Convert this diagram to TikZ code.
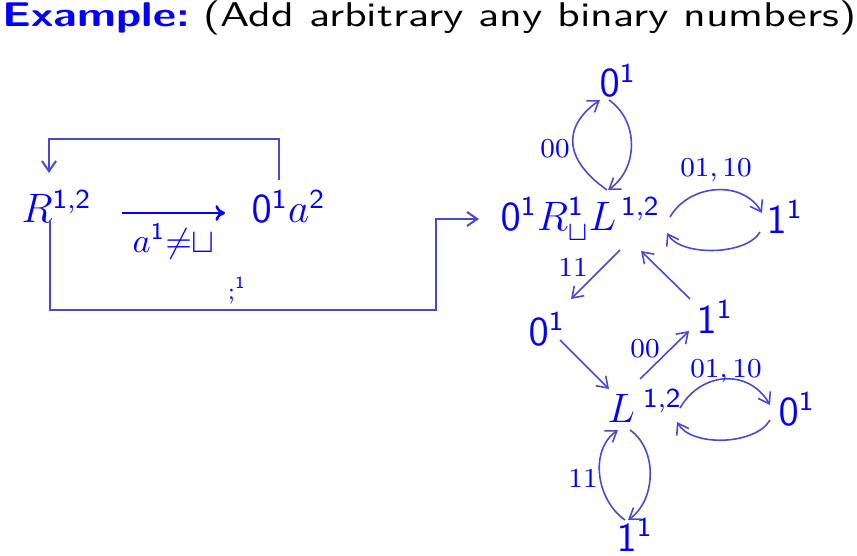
\documentclass[tikz,border=0pt]{standalone}
\usetikzlibrary{arrows.meta,calc}
\definecolor{ln}{RGB}{72,72,208}
\begin{document}
\begin{tikzpicture}[x=0.2917pt,y=0.2917pt,
  st/.style={inner sep=0pt, text=blue, anchor=base west, font=\fontsize{12}{14}\selectfont},
  lbl/.style={inner sep=0pt, text=blue, font=\fontsize{8}{9}\selectfont},
  tip/.style={-{Straight Barb[length=3pt,width=4.1pt]}},
  wire/.style={draw=ln, line width=0.58pt},
  arc/.style={draw=ln, line width=0.46pt, tip}]
\useasboundingbox (0,0) rectangle (857,555);
% title
\node[anchor=base west, inner sep=0pt, font=\sffamily\fontsize{10}{12}\selectfont] (title) at (2,528)
  {\scalebox{1.31}[1]{\textcolor{blue}{\bfseries Example:}}\hspace{4pt}\scalebox{1.285}[1]{(Add arbitrary any binary numbers)}};
% left part
\node[st] (R) at (21,332) {$R^{\mathsf{1,2}}$};
\node[st] (A) at (251,332) {$\mathsf{0}^{\mathsf{1}}a^{\mathsf{2}}$};
\draw[blue, line width=0.75pt, -{To[length=2.8pt,width=4.6pt]}]
  ($(R.base west)+(101,10)$) -- ($(A.base west)+(-26,10)$);
\node[anchor=base west, inner sep=0pt, text=blue, font=\fontsize{10}{12}\selectfont] (cond) at (132,303) {$a^{\mathsf{1}}{\neq}{\sqcup}$};
\draw[wire, tip] ($(A.base west)+(28,43)$) -- ++(0,41) -| ($(R.base west)+(28,50)$);
\node[st] (M) at (500,325) {$\mathsf{0}^{\mathsf{1}}R^{\mathsf{1}}_{\sqcup}L^{\mkern3mu\mathsf{1,2}}$};
\draw[wire, tip] ($(R.base west)+(29,3)$) -- ++(0,-90) -| ($(M.base west)+(-64,11)$) -- ($(M.base west)+(-21,11)$);
\node[anchor=base west, inner sep=0pt, text=blue, font=\fontsize{7}{8}\selectfont] (semi) at (227,256) {$;^{\mathsf{1}}$};
% right part nodes
\node[st] (T) at (599,458) {$\mathsf{0}^{\mathsf{1}}$};
\node[st] (O) at (766,322) {$\mathsf{1}^{\mathsf{1}}$};
\node[st] (Z) at (528,210) {$\mathsf{0}^{\mathsf{1}}$};
\node[st] (U) at (696,222) {$\mathsf{1}^{\mathsf{1}}$};
\node[st] (L) at (607,133) {$L^{\mkern5mu\mathsf{1,2}}$};
\node[st] (Y) at (778,130) {$\mathsf{0}^{\mathsf{1}}$};
\node[st] (B) at (616,4) {$\mathsf{1}^{\mathsf{1}}$};
% loops M <-> T
\draw[arc] ($(M.base west)+(107,40)$) to[out=145,in=-145,looseness=1.4] ($(T.base west)+(1,-3)$);
\draw[arc] ($(T.base west)+(10,-3)$) to[out=-35,in=35,looseness=1.05] ($(M.base west)+(108,40)$);
\node[lbl] (l1) at (555,406) {$00$};
% M <-> O
\draw[arc] ($(M.base west)+(170,13)$) to[out=60,in=120,looseness=1.07] ($(O.base west)+(-4,20)$);
\draw[arc] ($(O.base west)+(-6,1)$) to[out=-120,in=-60,looseness=0.75] ($(M.base west)+(167,-3)$);
\node[lbl] (l2) at (716,385) {$01,10$};
% M -> Z, U -> M
\draw[arc] ($(M.base west)+(120,-20)$) -- ($(Z.base west)+(43,46)$);
\node[lbl] (l3) at (573,287) {$11$};
\draw[arc] ($(U.base west)+(-6,34)$) -- ($(M.base west)+(141,-21)$);
% Z -> L, L -> U
\draw[arc] ($(Z.base west)+(32,5)$) -- ($(L.base west)+(2,33)$);
\draw[arc] ($(L.base west)+(33,43)$) -- ($(U.base west)+(-7,2)$);
\node[lbl] (l4) at (645,206) {$00$};
% L <-> Y
\draw[arc] ($(L.base west)+(73,14)$) to[out=60,in=120,looseness=1.2] ($(Y.base west)+(-8,20)$);
\draw[arc] ($(Y.base west)+(-8,5)$) to[out=-120,in=-60,looseness=0.8] ($(L.base west)+(70,0)$);
\node[lbl] (l5) at (726,184) {$01,10$};
% L <-> B
\draw[arc] ($(L.base west)+(23,-8)$) to[out=-35,in=35,looseness=0.97] ($(B.base west)+(12,31)$);
\draw[arc] ($(B.base west)+(9,31)$) to[out=145,in=-145,looseness=1.0] ($(L.base west)+(11,-8)$);
\node[lbl] (l6) at (583,76) {$11$};
\end{tikzpicture}
\end{document}
